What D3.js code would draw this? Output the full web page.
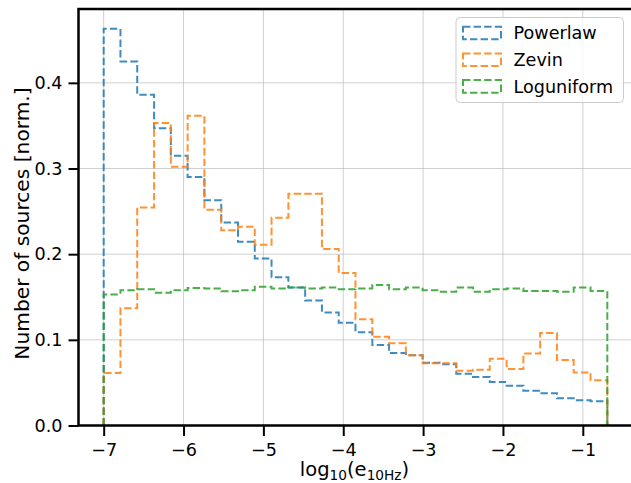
<!DOCTYPE html>
<html>
<head>
<meta charset="utf-8">
<script src="https://cdn.jsdelivr.net/npm/d3@7"></script>
<style>
  body { margin: 0; background: #fff; }
  text { font-family: "DejaVu Sans", sans-serif; fill: #000; }
</style>
</head>
<body>
<div id="chart"></div>
<script>
// bin edges of log10(e_10Hz), 30 bins
var binEdges = [-7.000, -6.790, -6.580, -6.369, -6.159, -5.949, -5.739, -5.528, -5.318, -5.108,
  -4.898, -4.687, -4.477, -4.267, -4.057, -3.847, -3.636, -3.426, -3.216, -3.006,
  -2.795, -2.585, -2.375, -2.165, -1.954, -1.744, -1.534, -1.324, -1.114, -0.903, -0.693];

var seriesNames = ['Powerlaw', 'Zevin', 'Loguniform'];
var seriesColors = ['#1f77b4', '#ff7f0e', '#2ca02c'];

var powerlaw = [0.463, 0.425, 0.386, 0.347, 0.315, 0.290, 0.263, 0.237, 0.2145, 0.195,
  0.173, 0.161, 0.146, 0.132, 0.120, 0.109, 0.094, 0.0846, 0.082, 0.0733,
  0.0714, 0.0605, 0.0566, 0.0508, 0.0465, 0.0406, 0.0376, 0.0317, 0.0294, 0.0282];
var zevin = [0.0613, 0.137, 0.2546, 0.353, 0.302, 0.3615, 0.252, 0.228, 0.232, 0.211,
  0.2425, 0.2705, 0.2705, 0.206, 0.178, 0.124, 0.1036, 0.096, 0.082, 0.0726,
  0.0726, 0.064, 0.065, 0.078, 0.066, 0.084, 0.108, 0.0764, 0.062, 0.0527];
var loguniform = [0.153, 0.158, 0.159, 0.155, 0.158, 0.1604, 0.160, 0.1566, 0.158, 0.162,
  0.160, 0.161, 0.160, 0.161, 0.159, 0.160, 0.164, 0.159, 0.161, 0.158,
  0.156, 0.161, 0.156, 0.159, 0.160, 0.157, 0.157, 0.156, 0.161, 0.157];

var xTicks = [-7, -6, -5, -4, -3, -2, -1];
var yTicks = [0.0, 0.1, 0.2, 0.3, 0.4];

var W = 631, H = 483;
var svg = d3.select('#chart').append('svg').attr('width', W).attr('height', H);

var x = d3.scaleLinear().domain([-7.3154, -0.3776]).range([78.5, 632.5]);
var y = d3.scaleLinear().domain([0, 0.4862]).range([425.5, 9]);

// grid
var grid = svg.append('g');
grid.selectAll('.gx').data(xTicks).enter().append('line')
  .attr('x1', function(d){ return x(d); }).attr('x2', function(d){ return x(d); })
  .attr('y1', y.range()[1]).attr('y2', y.range()[0])
  .attr('stroke', '#b0b0b0').attr('stroke-opacity', 0.6).attr('stroke-width', 1);
grid.selectAll('.gy').data(yTicks).enter().append('line')
  .attr('x1', x.range()[0]).attr('x2', x.range()[1])
  .attr('y1', function(d){ return y(d); }).attr('y2', function(d){ return y(d); })
  .attr('stroke', '#b0b0b0').attr('stroke-opacity', 0.6).attr('stroke-width', 1);

// step histograms
function stepPoints(vals){
  var pts = [[binEdges[0], 0]];
  vals.forEach(function(v, i){
    pts.push([binEdges[i], v]);
    pts.push([binEdges[i + 1], v]);
  });
  pts.push([binEdges[binEdges.length - 1], 0]);
  return pts;
}
var line = d3.line().x(function(d){ return x(d[0]); }).y(function(d){ return y(d[1]); });

[powerlaw, zevin, loguniform].forEach(function(vals, i){
  svg.append('path')
    .attr('d', line(stepPoints(vals)))
    .attr('fill', 'none')
    .attr('stroke', seriesColors[i])
    .attr('stroke-opacity', 0.85)
    .attr('stroke-width', 2)
    .attr('stroke-dasharray', '7.4,3.2');
});

// axes
var xAxis = d3.axisBottom(x).tickValues(xTicks).tickSize(10.5).tickPadding(8).tickFormat(d3.format('d'));
var yAxis = d3.axisLeft(y).tickValues(yTicks).tickSize(10).tickPadding(6).tickFormat(d3.format('.1f'));

var gx = svg.append('g').attr('transform', 'translate(0,' + y(0) + ')').call(xAxis);
var gy = svg.append('g').attr('transform', 'translate(' + x.range()[0] + ',0)').call(yAxis);
[gx, gy].forEach(function(g){
  g.select('.domain').remove();
  g.selectAll('.tick line').attr('stroke', '#000').attr('stroke-width', 2);
  g.selectAll('.tick text').style('font-size', '17.6px').attr('fill', '#000');
});

// spines
svg.append('rect')
  .attr('x', x.range()[0]).attr('y', y.range()[1])
  .attr('width', x.range()[1] - x.range()[0]).attr('height', y.range()[0] - y.range()[1])
  .attr('fill', 'none').attr('stroke', '#000').attr('stroke-width', 2.5);

// labels
var xl = svg.append('text').attr('x', 354.5).attr('y', 476).attr('text-anchor', 'middle')
  .style('font-size', '19.5px');
xl.append('tspan').text('log');
xl.append('tspan').attr('dy', 3.5).style('font-size', '13.7px').text('10');
xl.append('tspan').attr('dy', -3.5).text('(e');
xl.append('tspan').attr('dy', 3.5).style('font-size', '13.7px').text('10Hz');
xl.append('tspan').attr('dy', -3.5).text(')');

svg.append('text')
  .attr('transform', 'translate(28.5,' + 223.5 + ') rotate(-90)')
  .attr('text-anchor', 'middle')
  .style('font-size', '20.2px')
  .text('Number of sources [norm.]');

// legend
var lg = svg.append('g');
lg.append('rect').attr('x', 456).attr('y', 17.5).attr('width', 167.5).attr('height', 85)
  .attr('rx', 4).attr('fill', '#fff').attr('fill-opacity', 0.8)
  .attr('stroke', '#cccccc').attr('stroke-width', 1);
seriesNames.forEach(function(name, i){
  var cy = 33 + i * 26.7;
  lg.append('rect').attr('x', 463).attr('y', cy - 6.3).attr('width', 38).attr('height', 12.6)
    .attr('fill', 'none').attr('stroke', seriesColors[i]).attr('stroke-opacity', 0.85)
    .attr('stroke-width', 2).attr('stroke-dasharray', '7.4,3.2');
  lg.append('text').attr('x', 513.5).attr('y', cy + 6.3).style('font-size', '17.6px').text(name);
});
</script>
</body>
</html>
